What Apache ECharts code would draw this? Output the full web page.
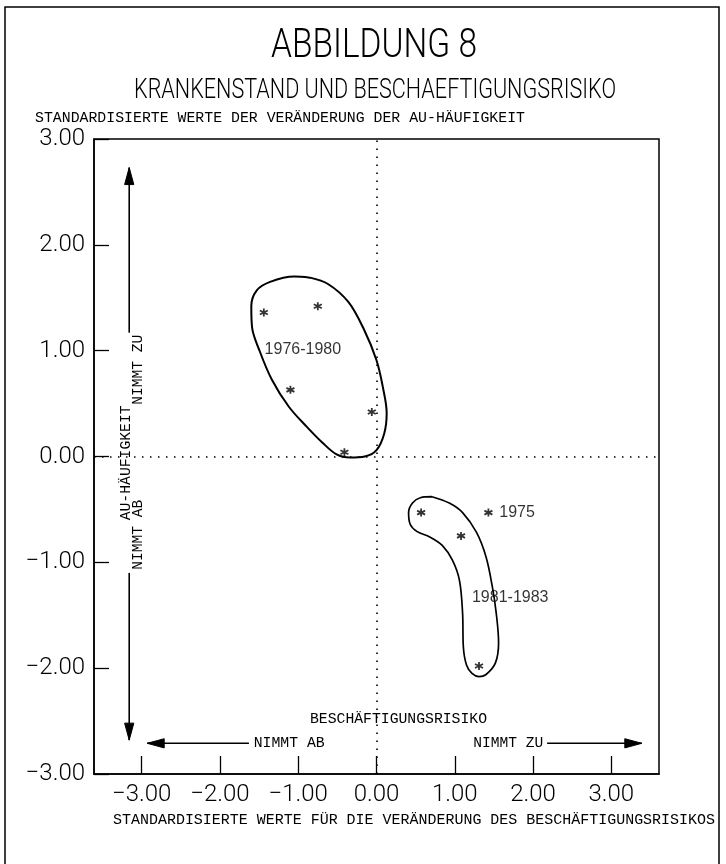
<!DOCTYPE html>
<html>
<head>
<meta charset="utf-8">
<script src="https://cdn.jsdelivr.net/npm/echarts@6/dist/echarts.min.js"></script>
<style>
  html, body { margin: 0; padding: 0; background: #fff; }
  #chart { width: 726px; height: 864px; }
</style>
</head>
<body>
<div id="chart"></div>
<script>
// Tick positions of both standardised axes
const xTicks = [-3, -2, -1, 0, 1, 2, 3];
const yTicks = [-3, -2, -1, 0, 1, 2, 3];

// Yearly observations (x: Beschäftigungsrisiko, y: AU-Häufigkeit)
const years7680 = [[-1.44, 1.36], [-0.75, 1.42], [-1.10, 0.63], [-0.06, 0.42], [-0.41, 0.04]];
const years8183 = [[0.57, -0.53], [1.08, -0.75], [1.31, -1.98]];
const year1975 = [[1.43, -0.53]];

// Hand-drawn group outlines, in data units
const outline7680 = [
  [-0.85, 1.69], [-1.05, 1.70], [-1.36, 1.65], [-1.53, 1.57], [-1.60, 1.42], [-1.59, 1.22],
  [-1.50, 1.01], [-1.34, 0.73], [-1.12, 0.47], [-0.89, 0.28], [-0.69, 0.13], [-0.51, 0.02],
  [-0.34, -0.01], [-0.15, 0.00], [0.00, 0.06], [0.10, 0.22], [0.13, 0.41], [0.08, 0.66],
  [0.00, 0.91], [-0.16, 1.20], [-0.36, 1.46], [-0.62, 1.63], [-0.85, 1.69]
];
const outline8183 = [
  [0.71, -0.38], [0.93, -0.44], [1.10, -0.53], [1.28, -0.72], [1.40, -0.95], [1.48, -1.23],
  [1.53, -1.48], [1.56, -1.76], [1.52, -1.95], [1.40, -2.06], [1.31, -2.08], [1.22, -2.05],
  [1.15, -1.97], [1.11, -1.80], [1.10, -1.48], [1.06, -1.17], [0.97, -0.98], [0.84, -0.84],
  [0.68, -0.76], [0.52, -0.71], [0.43, -0.64], [0.41, -0.53], [0.46, -0.44], [0.56, -0.39],
  [0.71, -0.38]
];

// Group captions
const groupNames = ['1976-1980', '1981-1983'];
const groupAnchors = [[-1.43, 1.01], [1.22, -1.33]];

const fmt = v => (v < 0 ? '\u2212' : '') + Math.abs(v).toFixed(2);

const ASTERISK = 'path://M0,-10L0,10M-8.66,-5L8.66,5M-8.66,5L8.66,-5';
const MONO = '"Liberation Mono", "DejaVu Sans Mono", monospace';
const THIN = 'Roboto, "Liberation Sans", sans-serif';

const chart = echarts.init(document.getElementById('chart'), null, { renderer: 'canvas' });

const starStyle = { color: 'rgba(0,0,0,0)', borderColor: '#000', borderWidth: 1.8 };

chart.setOption({
  animation: false,
  backgroundColor: '#fff',
  grid: {
    left: 94, right: 67, top: 139, bottom: 90,
    show: true, borderColor: '#000', borderWidth: 1.5, backgroundColor: 'transparent'
  },
  xAxis: {
    type: 'value', min: -3.61, max: 3.61,
    axisLine: { show: true, onZero: false, lineStyle: { color: '#000', width: 1.5 } },
    axisTick: { show: true, inside: true, length: 18, customValues: xTicks, lineStyle: { color: '#000', width: 1.3 } },
    axisLabel: {
      customValues: xTicks, formatter: fmt, margin: 9,
      fontFamily: THIN, fontWeight: 300, fontSize: 24, color: '#000'
    },
    splitLine: { show: false }
  },
  yAxis: {
    type: 'value', min: -3, max: 3, interval: 1,
    axisLine: { show: true, onZero: false, lineStyle: { color: '#000', width: 1.5 } },
    axisTick: { show: true, inside: true, length: 15, lineStyle: { color: '#000', width: 1.3 } },
    axisLabel: {
      formatter: fmt, margin: 9,
      fontFamily: THIN, fontWeight: 300, fontSize: 24, color: '#000'
    },
    splitLine: { show: false }
  },
  series: [
    {
      name: 'Gruppe 1976-1980', type: 'line', data: outline7680, smooth: 0.35,
      symbol: 'none', silent: true, lineStyle: { color: '#000', width: 2 }
    },
    {
      name: 'Gruppe 1981-1983', type: 'line', data: outline8183, smooth: 0.35,
      symbol: 'none', silent: true, lineStyle: { color: '#000', width: 1.7 }
    },
    {
      name: 'Jahre', type: 'scatter', symbol: ASTERISK, symbolSize: 8,
      itemStyle: starStyle,
      data: years7680.concat(years8183),
      markLine: {
        silent: true, symbol: ['none', 'none'], label: { show: false },
        lineStyle: { color: '#000', width: 1.6, type: [1.5, 6.5] },
        data: [{ xAxis: 0 }, { yAxis: 0 }]
      }
    },
    {
      name: '1975', type: 'scatter', symbol: ASTERISK, symbolSize: 8,
      itemStyle: starStyle,
      data: year1975,
      label: {
        show: true, position: 'right', distance: 6, formatter: '1975',
        fontFamily: '"Liberation Sans", sans-serif', fontSize: 16, color: '#000'
      }
    },
    {
      name: 'Gruppen', type: 'scatter', symbolSize: 0, silent: true,
      data: groupAnchors.map((v, i) => ({ name: groupNames[i], value: v })),
      label: {
        show: true, position: 'right', distance: 0, formatter: p => p.name,
        fontFamily: '"Liberation Sans", sans-serif', fontSize: 16, color: '#000',
        align: 'left', verticalAlign: 'middle'
      }
    }
  ]
});

// ---- annotations: titles, axis names and direction arrows ----
const ctx = document.createElement('canvas').getContext('2d');
function fitScale(text, font, width) {
  ctx.font = font;
  return width / ctx.measureText(text).width;
}
function label(text, font, width, x, y, align, rotation) {
  return {
    type: 'text', x: x, y: y, rotation: rotation || 0,
    scaleX: fitScale(text, font, width), scaleY: 1,
    style: {
      text: text, font: font, fill: '#000',
      align: align, verticalAlign: 'middle', textAlign: align, textVerticalAlign: 'middle'
    }
  };
}
const P = (x, y) => chart.convertToPixel({ gridIndex: 0 }, [x, y]);

function line(a, b) {
  return { type: 'line', shape: { x1: a[0], y1: a[1], x2: b[0], y2: b[1] }, style: { stroke: '#000', lineWidth: 1.6 } };
}
function head(tip, dir) {
  // dir: unit vector of the arrow direction
  const len = 17, half = 4.6;
  const bx = tip[0] - dir[0] * len, by = tip[1] - dir[1] * len;
  const nx = -dir[1], ny = dir[0];
  return {
    type: 'polygon',
    shape: { points: [[tip[0], tip[1]], [bx + nx * half, by + ny * half], [bx - nx * half, by - ny * half]] },
    style: { fill: '#000', stroke: '#000', lineWidth: 1 }
  };
}

// vertical direction arrows (AU-Häufigkeit)
const upTip = P(-3.16, 2.73), upEnd = P(-3.16, 1.17);
const dnTip = P(-3.16, -2.68), dnEnd = P(-3.16, -1.10);
// horizontal direction arrows (Beschäftigungsrisiko)
const lTip = P(-2.93, -2.71), lEnd = P(-1.63, -2.71);
const rTip = P(3.39, -2.71), rEnd = P(2.18, -2.71);

const auCol = P(-3.20, -0.06), zuCol = P(-3.04, 0.82), abCol = P(-3.04, -0.74);
const nimmtAb = P(-1.57, -2.71), nimmtZu = P(2.13, -2.71);
const besch = P(-0.85, -2.48);

chart.setOption({
  graphic: [
    { type: 'rect', shape: { x: 5, y: 7, width: 714, height: 900 }, style: { fill: 'none', stroke: '#000', lineWidth: 1.5 }, z: -10 },
    label('ABBILDUNG 8', '300 40px ' + THIN, 206, 374, 47, 'center'),
    label('KRANKENSTAND UND BESCHAEFTIGUNGSRISIKO', '300 27px ' + THIN, 482, 375, 91, 'center'),
    label('STANDARDISIERTE WERTE DER VERÄNDERUNG DER AU-HÄUFIGKEIT', '14px ' + MONO, 490, 35, 118, 'left'),
    label('STANDARDISIERTE WERTE FÜR DIE VERÄNDERUNG DES BESCHÄFTIGUNGSRISIKOS', '14px ' + MONO, 602, 113, 820, 'left'),

    line(upTip, upEnd), head(upTip, [0, -1]),
    line(dnTip, dnEnd), head(dnTip, [0, 1]),
    label('AU-HÄUFIGKEIT', '14px ' + MONO, 115, auCol[0], auCol[1], 'center', Math.PI / 2),
    label('NIMMT ZU', '14px ' + MONO, 70, zuCol[0], zuCol[1], 'center', Math.PI / 2),
    label('NIMMT AB', '14px ' + MONO, 70, abCol[0], abCol[1], 'center', Math.PI / 2),

    line(lTip, lEnd), head(lTip, [-1, 0]),
    line(rTip, rEnd), head(rTip, [1, 0]),
    label('NIMMT AB', '14px ' + MONO, 71, nimmtAb[0], nimmtAb[1], 'left'),
    label('NIMMT ZU', '14px ' + MONO, 70, nimmtZu[0], nimmtZu[1], 'right'),
    label('BESCHÄFTIGUNGSRISIKO', '14px ' + MONO, 177, besch[0], besch[1], 'left')
  ]
});
</script>
</body>
</html>
